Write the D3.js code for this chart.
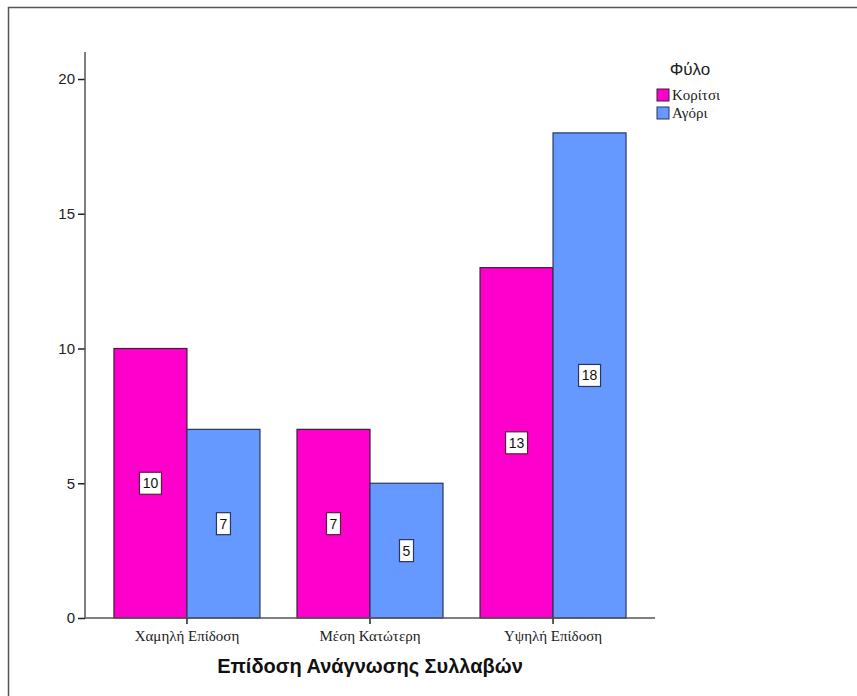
<!DOCTYPE html>
<html>
<head>
<meta charset="utf-8">
<script src="https://cdn.jsdelivr.net/npm/d3@7"></script>
<style>
  body { margin: 0; background: #fff; }
  svg { display: block; }
</style>
</head>
<body>
<svg id="chart" width="857" height="696"></svg>
<script>
// Reading performance groups and counts per gender
const categories = ["Χαμηλή Επίδοση", "Μέση Κατώτερη", "Υψηλή Επίδοση"];
const seriesNames = ["Κορίτσι", "Αγόρι"];
const girls = [10, 7, 13];
const boys = [7, 5, 18];
const yTicks = [0, 5, 10, 15, 20];
const colors = ["#ff00cc", "#6699ff"];
const strokes = ["#3a2030", "#2a3560"];

const svg = d3.select("#chart");

// outer frame
svg.append("path")
  .attr("d", "M8.5,700 V7.5 H860")
  .attr("fill", "none").attr("stroke", "#555").attr("stroke-width", 1.5);

const plot = { left: 85, right: 655, top: 52, bottom: 618 };

const x = d3.scaleBand()
  .domain(categories)
  .range([plot.left, plot.right])
  .paddingOuter(0.057)
  .paddingInner(0);

const y = d3.scaleLinear()
  .domain([0, 20])
  .range([plot.bottom, 79]);

const barW = 73;
const series = [girls, boys];

// bars
series.forEach((vals, si) => {
  const g = svg.append("g");
  categories.forEach((c, ci) => {
    const cx = x(c) + x.bandwidth() / 2;
    const x0 = si === 0 ? cx - barW : cx;
    g.append("rect")
      .attr("x", x0)
      .attr("y", y(vals[ci]))
      .attr("width", barW)
      .attr("height", y(0) - y(vals[ci]))
      .attr("fill", colors[si])
      .attr("stroke", strokes[si])
      .attr("stroke-width", 1.2);
  });
});

// value labels in the middle of each bar
series.forEach((vals, si) => {
  categories.forEach((c, ci) => {
    const cx = x(c) + x.bandwidth() / 2;
    const mx = si === 0 ? cx - barW / 2 : cx + barW / 2;
    const my = y(vals[ci] / 2);
    const txt = String(vals[ci]);
    const w = txt.length * 8 + 6;
    svg.append("rect")
      .attr("x", mx - w / 2).attr("y", my - 11)
      .attr("width", w).attr("height", 22)
      .attr("fill", "#fff")
      .attr("stroke", si === 0 ? "#55203f" : "#2a3560")
      .attr("stroke-width", 1.2);
    svg.append("text")
      .attr("x", mx).attr("y", my + 5)
      .attr("text-anchor", "middle")
      .attr("font-family", "Liberation Sans, Arial, sans-serif")
      .attr("font-size", 14)
      .attr("fill", "#111")
      .text(txt);
  });
});

// y axis
const yAxis = d3.axisLeft(y).tickValues(yTicks).tickSize(7).tickPadding(3);
const yg = svg.append("g").attr("transform", `translate(${plot.left},0)`).call(yAxis);
yg.select(".domain").remove();
yg.selectAll(".tick line").attr("stroke", "#222").attr("stroke-width", 1.5);
yg.selectAll(".tick text")
  .attr("font-family", "Liberation Sans, Arial, sans-serif")
  .attr("font-size", 15).attr("fill", "#222");
svg.append("line")
  .attr("x1", plot.left).attr("x2", plot.left)
  .attr("y1", plot.top).attr("y2", plot.bottom)
  .attr("stroke", "#555").attr("stroke-width", 1.5);

// x axis
const xAxis = d3.axisBottom(x).tickSize(6).tickPadding(6);
const xg = svg.append("g").attr("transform", `translate(0,${plot.bottom})`).call(xAxis);
xg.select(".domain").remove();
xg.selectAll(".tick line").attr("stroke", "#222").attr("stroke-width", 1.5);
xg.selectAll(".tick text")
  .attr("font-family", "Liberation Serif, Times New Roman, serif")
  .attr("font-size", 15).attr("fill", "#222");
svg.append("line")
  .attr("x1", plot.left).attr("x2", plot.right)
  .attr("y1", plot.bottom).attr("y2", plot.bottom)
  .attr("stroke", "#555").attr("stroke-width", 1.5);

// x axis title
svg.append("text")
  .attr("x", 370).attr("y", 673)
  .attr("text-anchor", "middle")
  .attr("font-family", "Liberation Sans, Arial, sans-serif")
  .attr("font-size", 20).attr("font-weight", "bold").attr("fill", "#111")
  .text("Επίδοση Ανάγνωσης Συλλαβών");

// legend
const legend = svg.append("g");
legend.append("text")
  .attr("x", 690).attr("y", 75)
  .attr("text-anchor", "middle")
  .attr("font-family", "Liberation Sans, Arial, sans-serif")
  .attr("font-size", 17).attr("fill", "#222")
  .text("Φύλο");
seriesNames.forEach((name, i) => {
  const ly = 89 + i * 18;
  legend.append("rect")
    .attr("x", 657).attr("y", ly)
    .attr("width", 12).attr("height", 12)
    .attr("fill", colors[i]).attr("stroke", strokes[i]).attr("stroke-width", 1);
  legend.append("text")
    .attr("x", 672).attr("y", ly + 11)
    .attr("font-family", "Liberation Serif, Times New Roman, serif")
    .attr("font-size", 15).attr("fill", "#222")
    .text(name);
});
</script>
</body>
</html>
